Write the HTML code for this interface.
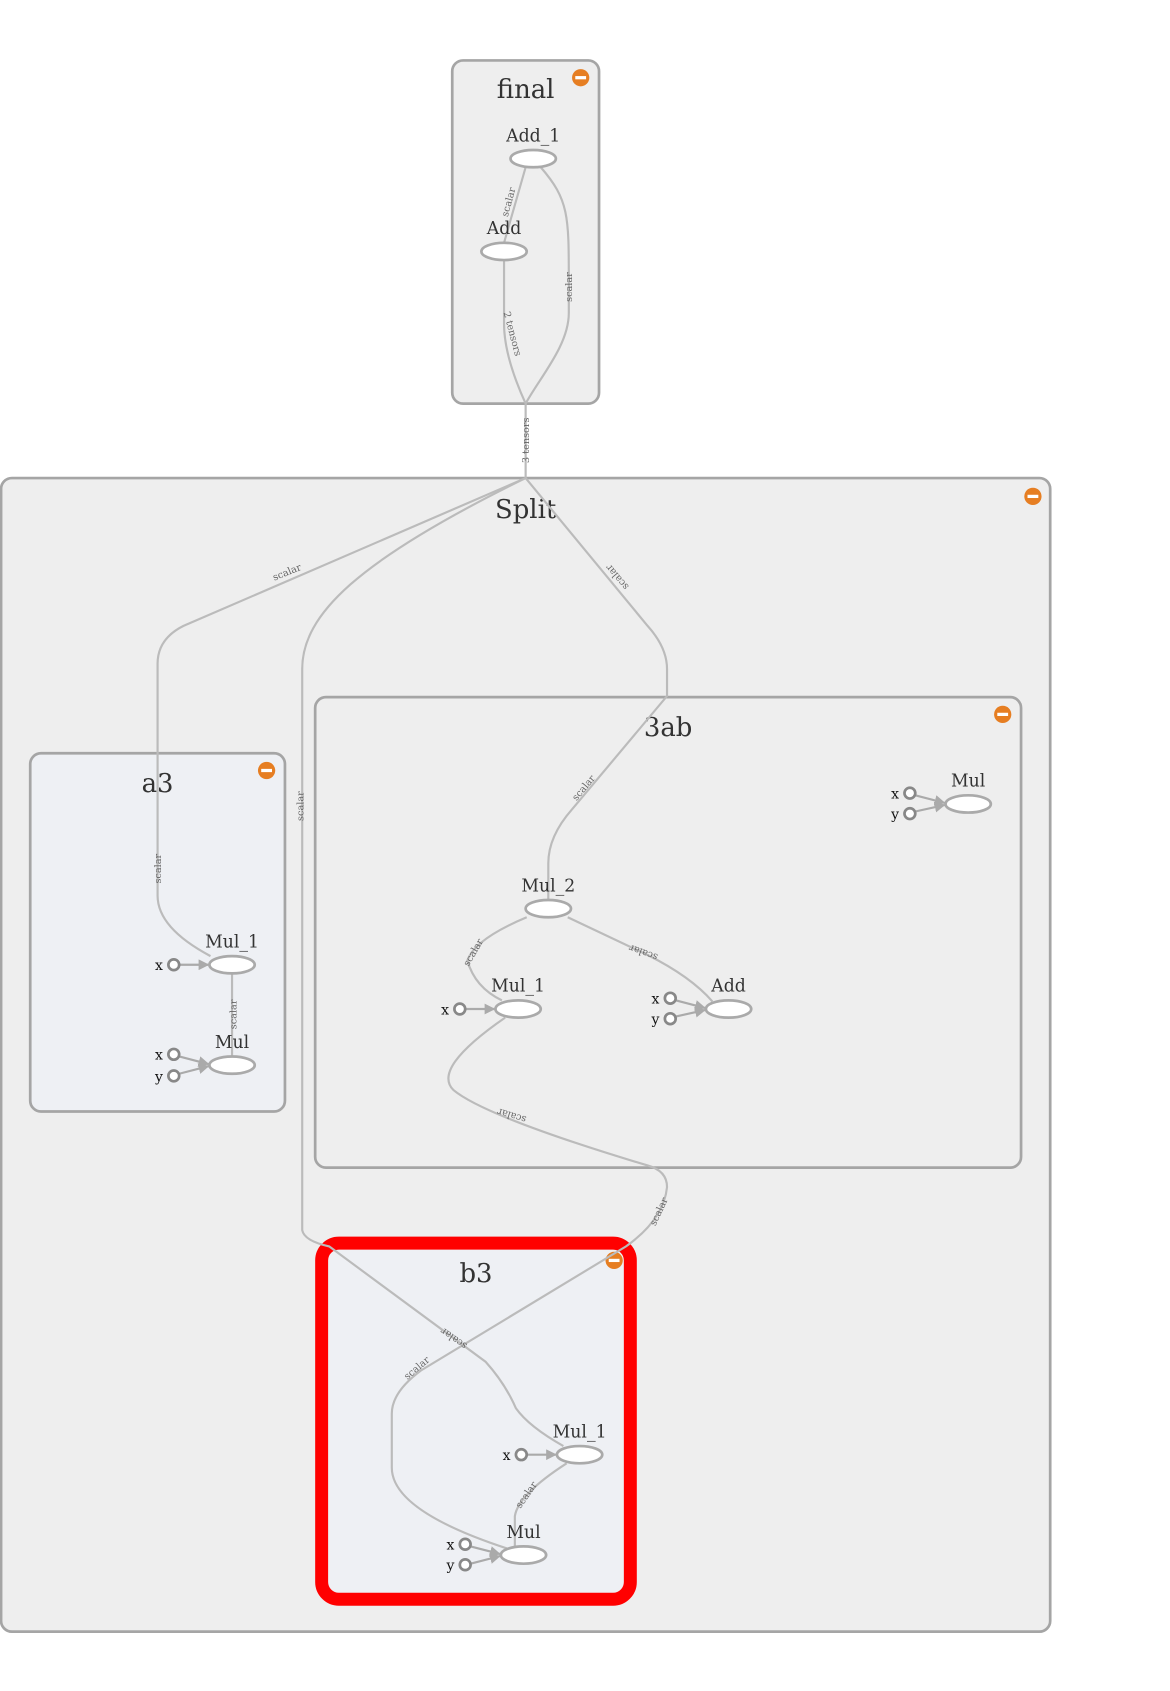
<!DOCTYPE html>
<html><head><meta charset="utf-8">
<style>
html,body{margin:0;padding:0;background:#fff;}
svg{display:block;}
text{font-family:"DejaVu Serif","Liberation Serif",serif;fill:#333;}
.t{font-size:24px;text-anchor:middle;}
.n{font-size:16px;text-anchor:middle;}
.p{font-size:13px;text-anchor:end;fill:#111;}
.e{font-size:9px;fill:#666;text-anchor:middle;}
.edge{fill:none;stroke:#bbb;stroke-width:2;}
.box{fill:#eee;stroke:#a5a5a5;stroke-width:2.5;}
.boxb{fill:#eef0f4;stroke:#a5a5a5;stroke-width:2.5;}
.op{fill:#fff;stroke:#aaa;stroke-width:2.5;}
.port{fill:#fff;stroke:#888;stroke-width:2.5;}
.pl{stroke:#aaa;stroke-width:2;fill:none;}
</style></head>
<body>
<svg width="1170" height="1691" viewBox="0 0 1084 1567" preserveAspectRatio="none" xmlns="http://www.w3.org/2000/svg">
<defs>
<marker id="ar" viewBox="0 0 10 10" refX="9" refY="5" markerWidth="5" markerHeight="5" orient="auto"><path d="M0,0L10,5L0,10z" fill="#aaa"/></marker>
</defs>
<rect class="box" x="419" y="56" width="136" height="318" rx="10"/>
<text class="t" x="487" y="91">final</text>
<circle cx="538" cy="72" r="8" fill="#e67e22"/><rect x="533" y="70.5" width="10" height="3" fill="#fff"/>
<rect class="box" x="1" y="443" width="972" height="1069" rx="10"/>
<text class="t" x="487" y="480">Split</text>
<circle cx="957" cy="460" r="8" fill="#e67e22"/><rect x="952" y="458.5" width="10" height="3" fill="#fff"/>
<rect class="box" x="292" y="646" width="654" height="436" rx="10"/>
<text class="t" x="619" y="682">3ab</text>
<circle cx="929" cy="662" r="8" fill="#e67e22"/><rect x="924" y="660.5" width="10" height="3" fill="#fff"/>
<rect class="boxb" x="28" y="698" width="236" height="332" rx="10"/>
<text class="t" x="146" y="734">a3</text>
<circle cx="247" cy="714" r="8" fill="#e67e22"/><rect x="242" y="712.5" width="10" height="3" fill="#fff"/>
<rect x="298" y="1152" width="286" height="330" rx="16" fill="#eef0f4" stroke="#ff0000" stroke-width="12"/>
<text class="t" x="441" y="1188">b3</text>
<circle cx="569" cy="1168" r="8" fill="#e67e22"/><rect x="564" y="1166.5" width="10" height="3" fill="#fff"/>

<path class="edge" d="M487,155 L467,225"/>
<path class="edge" d="M467,241 V300 Q467,330 487,374"/>
<path class="edge" d="M501,155 C527,185 527,200 527,260 V290 C527,320 500,350 487,374"/>
<path class="edge" d="M487,374 V443"/>
<path class="edge" d="M487,443 L170,580 Q146,592 146,615 V830 Q146,860 195,886"/>
<path class="edge" d="M487,443 C330,520 280,570 280,620 V1140 Q282,1150 305,1155 L450,1262 Q468,1282 478,1305 Q490,1322 522,1340"/>
<path class="edge" d="M487,443 L600,580 Q618,600 618,620 V645 L530,750 Q508,775 508,800 V834"/>
<path class="edge" d="M488,850 Q440,870 433,890 Q440,915 465,927"/>
<path class="edge" d="M526,850 L600,885 Q640,905 660,928"/>
<path class="edge" d="M468,943 Q400,990 420,1010 Q450,1035 600,1080 Q618,1085 618,1100 Q615,1130 580,1155 L390,1270 Q363,1290 363,1310 V1360 Q363,1400 470,1435"/>
<path class="edge" d="M215,902 V979"/>
<path class="edge" d="M525,1356 Q480,1385 477,1405 V1433"/>

<text class="e" transform="translate(474,188) rotate(-75)">scalar</text>
<text class="e" transform="translate(472,310) rotate(75)">2 tensors</text>
<text class="e" transform="translate(530,266) rotate(-90)">scalar</text>
<text class="e" transform="translate(490,408) rotate(-90)">3 tensors</text>
<text class="e" transform="translate(267,533) rotate(-22)">scalar</text>
<text class="e" transform="translate(281,747) rotate(-90)">scalar</text>
<text class="e" transform="translate(574,533) rotate(230)">scalar</text>
<text class="e" transform="translate(543,732) rotate(-50)">scalar</text>
<text class="e" transform="translate(149,805) rotate(-90)">scalar</text>
<text class="e" transform="translate(219,940) rotate(-90)">scalar</text>
<text class="e" transform="translate(441,884) rotate(-60)">scalar</text>
<text class="e" transform="translate(597,880) rotate(200)">scalar</text>
<text class="e" transform="translate(475,1031) rotate(197)">scalar</text>
<text class="e" transform="translate(613,1124) rotate(-65)">scalar</text>
<text class="e" transform="translate(422,1238) rotate(215)">scalar</text>
<text class="e" transform="translate(388,1270) rotate(-40)">scalar</text>
<text class="e" transform="translate(490,1387) rotate(-55)">scalar</text>

<text class="n" x="494" y="131">Add_1</text>
<ellipse class="op" cx="494" cy="147" rx="21" ry="8"/>
<text class="n" x="467" y="217">Add</text>
<ellipse class="op" cx="467" cy="233" rx="21" ry="8"/>

<text class="n" x="897" y="729">Mul</text>
<line class="pl" x1="848" y1="737" x2="875" y2="744" marker-end="url(#ar)"/>
<line class="pl" x1="848" y1="752" x2="875" y2="746" marker-end="url(#ar)"/>
<ellipse class="op" cx="897" cy="745" rx="21" ry="8"/>
<circle class="port" cx="843" cy="735" r="5"/><circle class="port" cx="843" cy="754" r="5"/>
<text class="p" x="833" y="740">x</text><text class="p" x="833" y="759">y</text>

<text class="n" x="508" y="826">Mul_2</text>
<ellipse class="op" cx="508" cy="842" rx="21" ry="8"/>

<text class="n" x="480" y="919">Mul_1</text>
<line class="pl" x1="431" y1="935" x2="458" y2="935" marker-end="url(#ar)"/>
<ellipse class="op" cx="480" cy="935" rx="21" ry="8"/>
<circle class="port" cx="426" cy="935" r="5"/>
<text class="p" x="416" y="940">x</text>

<text class="n" x="675" y="919">Add</text>
<line class="pl" x1="626" y1="927" x2="653" y2="934" marker-end="url(#ar)"/>
<line class="pl" x1="626" y1="942" x2="653" y2="936" marker-end="url(#ar)"/>
<ellipse class="op" cx="675" cy="935" rx="21" ry="8"/>
<circle class="port" cx="621" cy="925" r="5"/><circle class="port" cx="621" cy="944" r="5"/>
<text class="p" x="611" y="930">x</text><text class="p" x="611" y="949">y</text>

<text class="n" x="215" y="878">Mul_1</text>
<line class="pl" x1="166" y1="894" x2="193" y2="894" marker-end="url(#ar)"/>
<ellipse class="op" cx="215" cy="894" rx="21" ry="8"/>
<circle class="port" cx="161" cy="894" r="5"/>
<text class="p" x="151" y="899">x</text>

<text class="n" x="215" y="971">Mul</text>
<line class="pl" x1="166" y1="979" x2="193" y2="986" marker-end="url(#ar)"/>
<line class="pl" x1="166" y1="995" x2="193" y2="988" marker-end="url(#ar)"/>
<ellipse class="op" cx="215" cy="987" rx="21" ry="8"/>
<circle class="port" cx="161" cy="977" r="5"/><circle class="port" cx="161" cy="997" r="5"/>
<text class="p" x="151" y="982">x</text><text class="p" x="151" y="1002">y</text>

<text class="n" x="537" y="1332">Mul_1</text>
<line class="pl" x1="488" y1="1348" x2="515" y2="1348" marker-end="url(#ar)"/>
<ellipse class="op" cx="537" cy="1348" rx="21" ry="8"/>
<circle class="port" cx="483" cy="1348" r="5"/>
<text class="p" x="473" y="1353">x</text>

<text class="n" x="485" y="1425">Mul</text>
<line class="pl" x1="436" y1="1433" x2="463" y2="1440" marker-end="url(#ar)"/>
<line class="pl" x1="436" y1="1449" x2="463" y2="1442" marker-end="url(#ar)"/>
<ellipse class="op" cx="485" cy="1441" rx="21" ry="8"/>
<circle class="port" cx="431" cy="1431" r="5"/><circle class="port" cx="431" cy="1450" r="5"/>
<text class="p" x="421" y="1436">x</text><text class="p" x="421" y="1455">y</text>
</svg>
</body></html>
